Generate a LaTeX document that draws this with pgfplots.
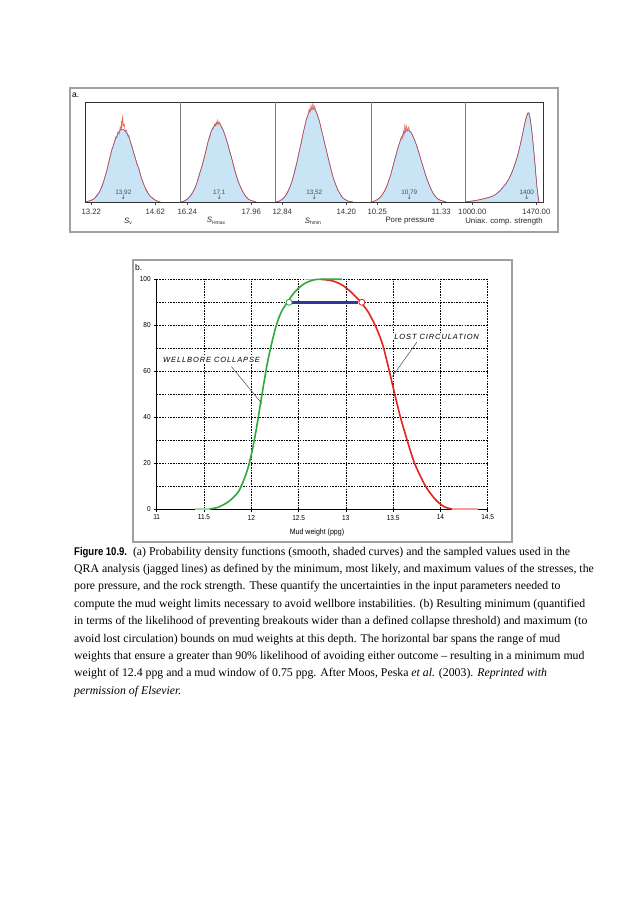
\documentclass[border=0pt]{standalone}
\usepackage{fontspec}
\setmainfont{Liberation Serif}
\newfontfamily\lab{Liberation Sans}
\newfontfamily\labc{Liberation Sans}[FakeStretch=0.9]
\newfontfamily\figfont{Liberation Sans}[FakeStretch=0.85]
\newfontfamily\dv{DejaVu Sans}
\usepackage{pgfplots}
\pgfplotsset{compat=1.18}

\definecolor{pdffill}{HTML}{C8E4F5}
\definecolor{pdfline}{HTML}{4A4AA0}
\definecolor{jag}{HTML}{E8402A}
\definecolor{cgreen}{HTML}{2EAA3A}
\definecolor{cred}{HTML}{E3231E}
\definecolor{cbar}{HTML}{2D3A9C}
\definecolor{cframe}{HTML}{A0A0A0}

\pgfplotsset{
  dens/.style={
    scale only axis, height=100pt, ymin=0, ymax=1, ytick=\empty,
    axis line style={draw=none}, tick align=outside, major tick length=3pt,
    xtick pos=left,
    tick style={black!70, line width=0.5pt},
    xticklabel style={font=\lab\fontsize{7.8}{8}\selectfont, text=black!80, inner sep=1pt, yshift=-2.5pt},
    anchor=south west, clip=false,
  },
  pdf/.style={fill=pdffill, draw=none},
  pdfl/.style={pdfline, line width=0.5pt, smooth},
  jagl/.style={jag, line width=0.5pt, opacity=0.85},
}
\tikzset{
  mk/.style={font=\lab\fontsize{6.4}{7}\selectfont, text=black!70, inner sep=0pt},
  ar/.style={font=\dv\fontsize{6.4}{7}\selectfont, text=black!70, inner sep=0pt},
}

\begin{document}
\begin{tikzpicture}
\path[use as bounding box, fill=white] (0pt,0pt) rectangle (633pt,-900pt);

% ---------- panel a ----------
\begin{axis}[dens, at={(85pt,-202pt)}, width=95pt, xmin=13.082, xmax=15.16,
  xtick={13.22,14.62}, xticklabels={13.22,14.62}]
\addplot[pdf] coordinates {(13.09,0) (13.24,0.02) (13.34,0.06) (13.45,0.15) (13.56,0.32) (13.67,0.52) (13.75,0.63) (13.82,0.70) (13.89,0.73) (13.96,0.71) (14.04,0.65) (14.11,0.55) (14.18,0.44) (14.26,0.33) (14.33,0.22) (14.44,0.10) (14.55,0.04) (14.66,0.01) (14.73,0)} \closedcycle;
\addplot[pdfl] coordinates {(13.09,0) (13.24,0.02) (13.34,0.06) (13.45,0.15) (13.56,0.32) (13.67,0.52) (13.75,0.63) (13.82,0.70) (13.89,0.73) (13.96,0.71) (14.04,0.65) (14.11,0.55) (14.18,0.44) (14.26,0.33) (14.33,0.22) (14.44,0.10) (14.55,0.04) (14.66,0.01) (14.73,0)};
\addplot[jagl] coordinates {(13.09,0) (13.16,0.01) (13.24,0.025) (13.29,0.035) (13.34,0.07) (13.40,0.10) (13.45,0.16) (13.50,0.22) (13.56,0.31) (13.61,0.42) (13.67,0.53) (13.71,0.57) (13.75,0.65) (13.78,0.64) (13.80,0.70) (13.83,0.68) (13.85,0.75) (13.87,0.72) (13.88,0.81) (13.89,0.74) (13.905,0.87) (13.92,0.76) (13.94,0.78) (13.96,0.71) (13.99,0.72) (14.02,0.66) (14.04,0.67) (14.08,0.59) (14.11,0.56) (14.15,0.49) (14.18,0.45) (14.22,0.37) (14.26,0.34) (14.30,0.26) (14.33,0.23) (14.38,0.16) (14.44,0.11) (14.50,0.06) (14.55,0.045) (14.61,0.02) (14.66,0.012) (14.73,0)};
\node[mk] at (axis cs:13.92,0.10) {13.92};
\node[ar] at (axis cs:13.92,0.045) {↓};
\end{axis}

\begin{axis}[dens, at={(180pt,-202pt)}, width=95.5pt, xmin=16.044, xmax=18.61,
  xtick={16.24,17.96}, xticklabels={16.24,17.96}]
\addplot[pdf] coordinates {(16.061,0) (16.168,0.01) (16.303,0.05) (16.437,0.13) (16.571,0.28) (16.706,0.46) (16.795,0.60) (16.885,0.71) (16.975,0.77) (17.064,0.79) (17.154,0.76) (17.243,0.68) (17.333,0.57) (17.422,0.45) (17.512,0.32) (17.602,0.21) (17.736,0.10) (17.870,0.03) (18.005,0.01) (18.094,0)} \closedcycle;
\addplot[pdfl] coordinates {(16.061,0) (16.168,0.01) (16.303,0.05) (16.437,0.13) (16.571,0.28) (16.706,0.46) (16.795,0.60) (16.885,0.71) (16.975,0.77) (17.064,0.79) (17.154,0.76) (17.243,0.68) (17.333,0.57) (17.422,0.45) (17.512,0.32) (17.602,0.21) (17.736,0.10) (17.870,0.03) (18.005,0.01) (18.094,0)};
\addplot[jagl] coordinates {(16.06,0) (16.12,0.005) (16.17,0.015) (16.24,0.03) (16.30,0.055) (16.37,0.09) (16.44,0.14) (16.50,0.19) (16.57,0.29) (16.64,0.36) (16.71,0.47) (16.75,0.52) (16.80,0.61) (16.84,0.64) (16.89,0.72) (16.93,0.73) (16.98,0.78) (17.00,0.76) (17.02,0.80) (17.04,0.77) (17.06,0.82) (17.08,0.78) (17.11,0.80) (17.15,0.75) (17.20,0.72) (17.24,0.68) (17.29,0.63) (17.33,0.58) (17.38,0.50) (17.42,0.46) (17.47,0.39) (17.51,0.33) (17.56,0.27) (17.60,0.22) (17.67,0.15) (17.74,0.10) (17.80,0.06) (17.87,0.035) (17.94,0.015) (18.01,0.01) (18.09,0)};
\node[mk] at (axis cs:17.1,0.10) {17.1};
\node[ar] at (axis cs:17.1,0.045) {↓};
\end{axis}

\begin{axis}[dens, at={(275.5pt,-202pt)}, width=95.5pt, xmin=12.6955, xmax=14.725,
  xtick={12.84,14.20}, xticklabels={12.84,14.20}]
\addplot[pdf] coordinates {(12.698,0) (12.783,0.01) (12.890,0.05) (12.996,0.14) (13.102,0.30) (13.208,0.52) (13.279,0.68) (13.350,0.82) (13.421,0.91) (13.492,0.94) (13.562,0.90) (13.633,0.80) (13.704,0.66) (13.775,0.52) (13.846,0.38) (13.917,0.25) (14.023,0.12) (14.129,0.04) (14.235,0.01) (14.342,0)} \closedcycle;
\addplot[pdfl] coordinates {(12.698,0) (12.783,0.01) (12.890,0.05) (12.996,0.14) (13.102,0.30) (13.208,0.52) (13.279,0.68) (13.350,0.82) (13.421,0.91) (13.492,0.94) (13.562,0.90) (13.633,0.80) (13.704,0.66) (13.775,0.52) (13.846,0.38) (13.917,0.25) (14.023,0.12) (14.129,0.04) (14.235,0.01) (14.342,0)};
\addplot[jagl] coordinates {(12.70,0) (12.74,0.005) (12.78,0.012) (12.84,0.03) (12.89,0.05) (12.94,0.09) (13.00,0.15) (13.05,0.21) (13.10,0.31) (13.15,0.40) (13.21,0.53) (13.25,0.60) (13.28,0.69) (13.31,0.74) (13.35,0.83) (13.38,0.86) (13.41,0.93) (13.43,0.90) (13.45,0.97) (13.47,0.92) (13.49,0.99) (13.51,0.93) (13.53,0.96) (13.56,0.90) (13.59,0.86) (13.63,0.81) (13.67,0.72) (13.70,0.67) (13.74,0.58) (13.78,0.51) (13.81,0.45) (13.85,0.38) (13.88,0.32) (13.92,0.25) (13.97,0.18) (14.02,0.12) (14.07,0.08) (14.13,0.04) (14.18,0.025) (14.24,0.01) (14.34,0)};
\node[mk] at (axis cs:13.52,0.10) {13.52};
\node[ar] at (axis cs:13.52,0.045) {↓};
\end{axis}

\begin{axis}[dens, at={(371pt,-202pt)}, width=94.5pt, xmin=10.144, xmax=11.738,
  xtick={10.25,11.33}, xticklabels={10.25,11.33}]
\addplot[pdf] coordinates {(10.138,0) (10.205,0.01) (10.289,0.04) (10.374,0.11) (10.458,0.24) (10.543,0.42) (10.599,0.54) (10.655,0.64) (10.711,0.70) (10.768,0.72) (10.824,0.69) (10.880,0.62) (10.936,0.52) (10.993,0.41) (11.049,0.30) (11.105,0.20) (11.189,0.09) (11.274,0.03) (11.358,0.01) (11.414,0)} \closedcycle;
\addplot[pdfl] coordinates {(10.138,0) (10.205,0.01) (10.289,0.04) (10.374,0.11) (10.458,0.24) (10.543,0.42) (10.599,0.54) (10.655,0.64) (10.711,0.70) (10.768,0.72) (10.824,0.69) (10.880,0.62) (10.936,0.52) (10.993,0.41) (11.049,0.30) (11.105,0.20) (11.189,0.09) (11.274,0.03) (11.358,0.01) (11.414,0)};
\addplot[jagl] coordinates {(10.14,0) (10.17,0.005) (10.21,0.012) (10.25,0.025) (10.29,0.045) (10.33,0.07) (10.37,0.11) (10.42,0.17) (10.46,0.24) (10.50,0.32) (10.54,0.42) (10.57,0.48) (10.60,0.55) (10.63,0.60) (10.655,0.65) (10.67,0.63) (10.69,0.71) (10.70,0.67) (10.715,0.78) (10.73,0.70) (10.745,0.76) (10.76,0.71) (10.78,0.75) (10.80,0.70) (10.82,0.70) (10.85,0.66) (10.88,0.62) (10.91,0.57) (10.94,0.52) (10.97,0.46) (10.99,0.41) (11.02,0.36) (11.05,0.30) (11.08,0.25) (11.11,0.20) (11.15,0.14) (11.19,0.09) (11.23,0.055) (11.27,0.03) (11.32,0.015) (11.36,0.01) (11.41,0)};
\node[mk] at (axis cs:10.79,0.10) {10.79};
\node[ar] at (axis cs:10.79,0.045) {↓};
\end{axis}

\begin{axis}[dens, at={(465.5pt,-202pt)}, width=77.8pt, xmin=950.1, xmax=1521.4,
  xtick={1000,1470}, xticklabels={1000.00,1470.00}]
\addplot[pdf] coordinates {(951,0.003) (1005,0.01) (1078,0.03) (1152,0.06) (1201,0.11) (1250,0.19) (1286,0.28) (1323,0.42) (1348,0.55) (1372,0.70) (1392,0.82) (1409,0.89) (1421,0.87) (1438,0.70) (1458,0.42) (1475,0.15) (1490,0)} \closedcycle;
\addplot[pdfl] coordinates {(951,0.003) (1005,0.01) (1078,0.03) (1152,0.06) (1201,0.11) (1250,0.19) (1286,0.28) (1323,0.42) (1348,0.55) (1372,0.70) (1392,0.82) (1409,0.89) (1421,0.87) (1438,0.70) (1458,0.42) (1475,0.15) (1490,0)};
\addplot[jagl] coordinates {(951,0) (980,0.008) (1005,0.012) (1040,0.02) (1078,0.032) (1115,0.045) (1152,0.062) (1175,0.08) (1201,0.11) (1225,0.15) (1250,0.19) (1268,0.23) (1286,0.28) (1305,0.35) (1323,0.42) (1336,0.48) (1348,0.55) (1360,0.62) (1372,0.70) (1382,0.77) (1392,0.83) (1400,0.87) (1405,0.89) (1409,0.885) (1414,0.89) (1421,0.86) (1430,0.78) (1438,0.70) (1448,0.56) (1458,0.42) (1466,0.28) (1475,0.15) (1482,0.06) (1490,0)};
\node[mk] at (axis cs:1400,0.10) {1400};
\node[ar] at (axis cs:1400,0.045) {↓};
\end{axis}

% ---------- panel b ----------
\begin{axis}[at={(156.7pt,-509pt)}, anchor=south west, scale only axis,
  width=331pt, height=229.7pt, xmin=11, xmax=14.5, ymin=0, ymax=100,
  xtick={11,11.5,12,12.5,13,13.5,14,14.5}, ytick={0,20,40,60,80,100},
  minor ytick={10,30,50,70,90}, grid=both,
  major grid style={black, line width=0.55pt, dash pattern=on 1.6pt off 1.1pt},
  minor grid style={black, line width=0.55pt, dash pattern=on 1.6pt off 1.1pt},
  axis x line*=bottom, axis y line*=left, axis line style={-, line width=0.8pt},
  tick align=outside, major tick length=2.5pt, minor tick length=0pt,
  tick style={black, line width=0.6pt},
  ticklabel style={font=\labc\fontsize{7.2}{8}\selectfont},
  /pgf/number format/assume math mode=true, clip=false]
\addplot[cred!45, line width=1.6pt] coordinates {(12.57,100) (12.74,100)};
\addplot[cred!45, line width=1.6pt] coordinates {(14.12,0) (14.40,0)};
\addplot[cred, line width=1.6pt, smooth] coordinates {(12.74,100) (12.85,99.4) (12.95,97.8) (13.04,95) (13.11,92.2) (13.17,89.5) (13.24,85.5) (13.31,80) (13.36,75) (13.40,70) (13.46,60) (13.517,50) (13.577,40) (13.648,30) (13.726,20) (13.842,10) (13.95,4) (14.04,1) (14.12,0)};
\addplot[cgreen!45, line width=1.6pt] coordinates {(11.40,0) (11.56,0)};
\addplot[cgreen, line width=1.6pt, smooth] coordinates {(11.56,0) (11.65,0.8) (11.76,3.2) (11.86,7.3) (11.92,12.5) (11.97,18.5) (12.01,25.5) (12.05,34) (12.09,44) (12.13,54) (12.17,63.5) (12.215,72) (12.265,80) (12.32,86) (12.39,90.5) (12.46,94.5) (12.55,97.8) (12.64,99.5) (12.72,100) (12.96,100)};
\addplot[cbar, line width=2.6pt] coordinates {(12.43,90) (13.13,90)};
\addplot[only marks, mark=*, mark size=3pt, mark options={fill=white, draw=cgreen, line width=0.8pt}] coordinates {(12.40,90)};
\addplot[only marks, mark=*, mark size=3pt, mark options={fill=white, draw=cred, line width=0.8pt}] coordinates {(13.17,90)};
\node[fill=white, inner sep=1pt, font=\lab\itshape\fontsize{7.5}{8}\selectfont\addfontfeatures{LetterSpace=12}] at (axis cs:13.96,75) {LOST CIRCULATION};
\draw[black!70, line width=0.5pt] (axis cs:13.75,72.6) -- (axis cs:13.49,57.6);
\node[fill=white, inner sep=1pt, font=\lab\itshape\fontsize{7.5}{8}\selectfont\addfontfeatures{LetterSpace=12}] at (axis cs:11.58,64.9) {WELLBORE COLLAPSE};
\draw[black!70, line width=0.5pt] (axis cs:11.79,62.0) -- (axis cs:12.11,46.0);
\end{axis}

% ---------- frames and text ----------
\begin{scope}[x=1pt, y=-1pt]
\draw[cframe, line width=1.1pt] (70,88) rectangle (558,232);
\draw[cframe, line width=1.1pt] (133,260) rectangle (512,542);
\draw[black!80, line width=0.7pt] (85,102) rectangle (543.3,202);
\foreach \s in {180,275.5,371,465.5} \draw[black!50, line width=0.6pt] (\s,102) -- (\s,202);
\node[font=\lab\fontsize{8.5}{9}\selectfont, anchor=west, inner sep=0pt] at (72,95) {a.};
\node[font=\lab\fontsize{8.5}{9}\selectfont, anchor=west, inner sep=0pt] at (135,267) {b.};
\begin{scope}[every node/.style={font=\lab\fontsize{7.8}{9}\selectfont, text=black!85, inner sep=0pt}]
\node at (128,221) {\textit{S}\raisebox{-0.35ex}{\fontsize{5}{6}\selectfont v}};
\node at (216,221) {\textit{S}\raisebox{-0.35ex}{\fontsize{5}{6}\selectfont Hmax}};
\node at (313,221) {\textit{S}\raisebox{-0.35ex}{\fontsize{5}{6}\selectfont hmin}};
\node at (410,221) {Pore pressure};
\node at (504,221) {Uniax. comp. strength};
\end{scope}
\node[font=\labc\fontsize{7.8}{9}\selectfont, inner sep=0pt] at (317,532) {Mud weight (ppg)};
\begin{scope}[every node/.style={anchor=base west, inner sep=0pt, font=\fontsize{11.8}{13}\selectfont}]
\node at (74,555) {{\figfont\bfseries\fontsize{11.2}{13}\selectfont Figure 10.9.}\ \ (a) Probability density functions (smooth, shaded curves) and the sampled values used in the};
\node at (74,572.4) {QRA analysis (jagged lines) as defined by the minimum, most likely, and maximum values of the stresses, the};
\node at (74,589.8) {pore pressure, and the rock strength. These quantify the uncertainties in the input parameters needed to};
\node at (74,607.2) {compute the mud weight limits necessary to avoid wellbore instabilities. (b) Resulting minimum (quantified};
\node at (74,624.6) {in terms of the likelihood of preventing breakouts wider than a defined collapse threshold) and maximum (to};
\node at (74,642) {avoid lost circulation) bounds on mud weights at this depth. The horizontal bar spans the range of mud};
\node at (74,659.4) {weights that ensure a greater than 90\% likelihood of avoiding either outcome -- resulting in a minimum mud};
\node at (74,676.8) {weight of 12.4 ppg and a mud window of 0.75 ppg. After Moos, Peska \textit{et al.} (2003). \textit{Reprinted with}};
\node at (74,694.2) {\textit{permission of Elsevier.}};
\end{scope}
\end{scope}
\end{tikzpicture}
\end{document}
